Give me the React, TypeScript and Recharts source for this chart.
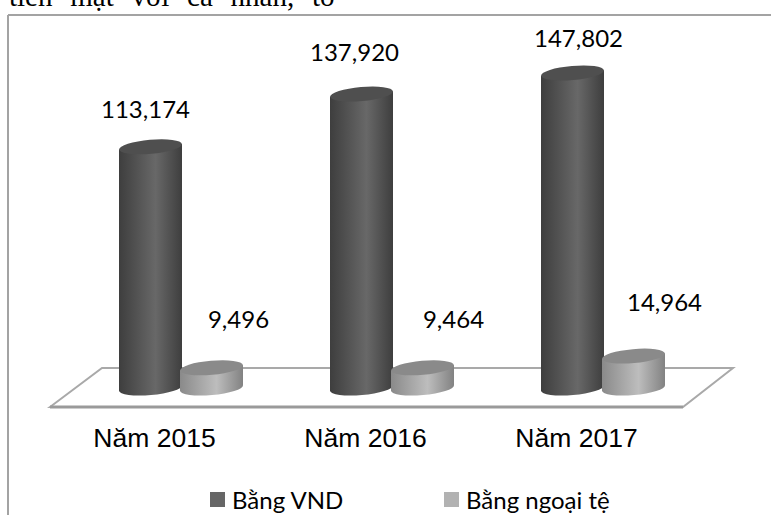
import { Bar, BarChart, Customized, LabelList, Legend, XAxis, YAxis } from "recharts";

const categories = ["Năm 2015", "Năm 2016", "Năm 2017"];
const vndValues = [113174, 137920, 147802];
const foreignValues = [9496, 9464, 14964];
const seriesNames = ["Bằng VND", "Bằng ngoại tệ"];
const headerText = "tiền mặt với cá nhân, tổ";

const data = categories.map((name, i) => ({
  name,
  vnd: vndValues[i],
  foreign: foreignValues[i],
}));

// hand placed label nudges, the source chart is 3D so labels do not sit on the bars
const vndLabelNudge = [
  { dx: -5, dy: -29 },
  { dx: -7, dy: -33 },
  { dx: 6, dy: -26 },
];
const foreignLabelNudge = [
  { dx: 27, dy: -40 },
  { dx: 31, dy: -40 },
  { dx: 31, dy: -45 },
];

const RY = 7;
const TILT = -5;

function Cylinder(props: any) {
  const { x, y, width, height, side, top } = props;
  const rx = width / 2;
  const cx = x + rx;
  const bottom = y + height;
  const rise = rx * Math.sin((-TILT * Math.PI) / 180);
  const body = `M${x},${y + rise} L${x},${bottom + rise} A${rx},${RY} ${TILT} 0 0 ${x + width},${bottom - rise} L${x + width},${y - rise} Z`;
  return (
    <g>
      <path d={body} fill={`url(#${side})`} />
      <ellipse cx={cx} cy={y} rx={rx} ry={RY} fill={top} transform={`rotate(${TILT} ${cx} ${y})`} />
    </g>
  );
}

function Stage() {
  return (
    <g>
      <line x1={8} y1={15} x2={771} y2={15} stroke="#a3a3a3" strokeWidth={2} />
      <line x1={8} y1={15} x2={8} y2={515} stroke="#a3a3a3" strokeWidth={2} />
      <polygon points="50,407 102,368 733,368 683,407" fill="#ffffff" stroke="#a9a9a9" strokeWidth={2} />
      <line x1={50} y1={407} x2={683} y2={407} stroke="#9a9a9a" strokeWidth={3} />
    </g>
  );
}

function CategoryTick({ x, y, payload }: any) {
  return (
    <text x={x - 26} y={y + 51} textAnchor="middle" fontFamily="Liberation Sans" fontSize={26.5} fill="#000">
      {payload.value}
    </text>
  );
}

function valueLabel(values: number[], nudge: { dx: number; dy: number }[]) {
  return function ValueLabel({ x, y, width, index }: any) {
    return (
      <text
        x={x + width / 2 + nudge[index].dx}
        y={y + nudge[index].dy}
        textAnchor="middle"
        fontFamily="Lato"
        fontSize={24}
        fill="#000"
      >
        {values[index].toLocaleString("en-US")}
      </text>
    );
  };
}

function ChartLegend() {
  const swatches = ["#666666", "#b2b2b2"];
  const lefts = [210, 444];
  return (
    <div style={{ position: "relative", width: 771, height: 30 }}>
      {seriesNames.map((name, i) => (
        <div key={name} style={{ position: "absolute", left: lefts[i], top: 0, display: "flex", alignItems: "center", height: 30 }}>
          <span style={{ width: 15, height: 15, background: swatches[i], marginRight: 7 }} />
          <span style={{ fontFamily: "Lato", fontSize: 24, color: "#000" }}>{name}</span>
        </div>
      ))}
    </div>
  );
}

export default function App() {
  return (
    <div style={{ position: "absolute", left: 0, top: 0, width: 771, height: 515, overflow: "hidden", background: "#fff" }}>
      <div
        style={{
          position: "absolute",
          left: 9,
          top: -22,
          fontFamily: "Liberation Serif",
          fontSize: 29,
          lineHeight: "36px",
          wordSpacing: 10.5,
          whiteSpace: "pre",
          color: "#000",
        }}
      >
        {headerText}
      </div>
      <BarChart
        width={771}
        height={515}
        data={data}
        barCategoryGap={44}
        barGap={-2}
        margin={{ top: 47, right: 63, bottom: 0, left: 75 }}
      >
        <defs>
          <linearGradient id="darkBody" x1="0" y1="0" x2="1" y2="0">
            <stop offset="0%" stopColor="#3e3e3e" />
            <stop offset="58%" stopColor="#686868" />
            <stop offset="100%" stopColor="#3e3e3e" />
          </linearGradient>
          <linearGradient id="lightBody" x1="0" y1="0" x2="1" y2="0">
            <stop offset="0%" stopColor="#8a8a8a" />
            <stop offset="58%" stopColor="#bdbdbd" />
            <stop offset="100%" stopColor="#828282" />
          </linearGradient>
        </defs>
        <Customized component={Stage} />
        <XAxis dataKey="name" height={127} axisLine={false} tickLine={false} tick={<CategoryTick />} interval={0} />
        <YAxis hide domain={[0, 160000]} />
        <Bar
          dataKey="vnd"
          isAnimationActive={false}
          shape={(p: any) => <Cylinder {...p} side="darkBody" top="#4f4f4f" />}
        >
          <LabelList dataKey="vnd" content={valueLabel(vndValues, vndLabelNudge)} />
        </Bar>
        <Bar
          dataKey="foreign"
          isAnimationActive={false}
          shape={(p: any) => <Cylinder {...p} side="lightBody" top="#8a8a8a" />}
        >
          <LabelList dataKey="foreign" content={valueLabel(foreignValues, foreignLabelNudge)} />
        </Bar>
        <Legend
          verticalAlign="middle"
          content={<ChartLegend />}
          wrapperStyle={{ position: "absolute", left: 0, top: 484, width: 771 }}
        />
      </BarChart>
    </div>
  );
}
